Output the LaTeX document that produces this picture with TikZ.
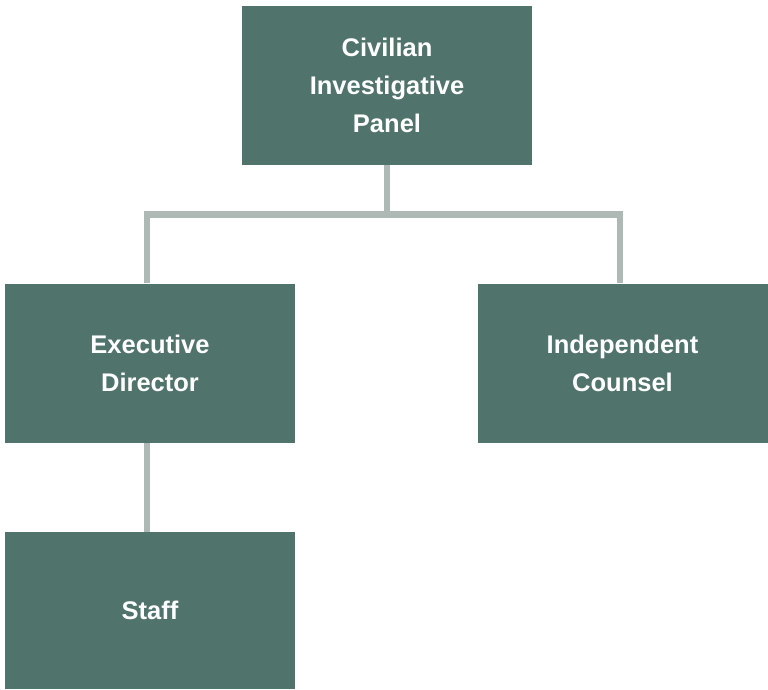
\documentclass[tikz,border=0pt]{standalone}
\usepackage{fontspec}
\setmainfont{Liberation Sans}
\definecolor{boxgreen}{HTML}{50736B}
\definecolor{linegray}{HTML}{AEB8B5}
\begin{document}
\begin{tikzpicture}[x=1pt,y=-1pt,
  orgbox/.style={fill=boxgreen,draw=none,minimum width=290pt,minimum height=159pt,
    text=white,font=\fontsize{25.5}{38}\selectfont\bfseries,align=center,inner sep=0pt},
  conn/.style={draw=linegray,line width=6.5pt}]
\useasboundingbox (0,0) rectangle (768,689);
\node[orgbox] (cip) at (387,85) {Civilian\\Investigative\\Panel};
\node[orgbox] (ed) at (150,363) {Executive\\Director};
\node[orgbox] (ic) at (622.5,363) {Independent\\Counsel};
\node[orgbox,minimum height=157pt] (staff) at (150,610.5) {Staff};
\coordinate (j) at (387,214.5);
\draw[conn] (cip.south) -- (j);
\draw[conn] ([xshift=-3pt]ed.north) |- (j) -| ([xshift=-2.5pt]ic.north);
\draw[conn] ([xshift=-3pt]ed.south) -- ([xshift=-3pt]staff.north);
\end{tikzpicture}
\end{document}
